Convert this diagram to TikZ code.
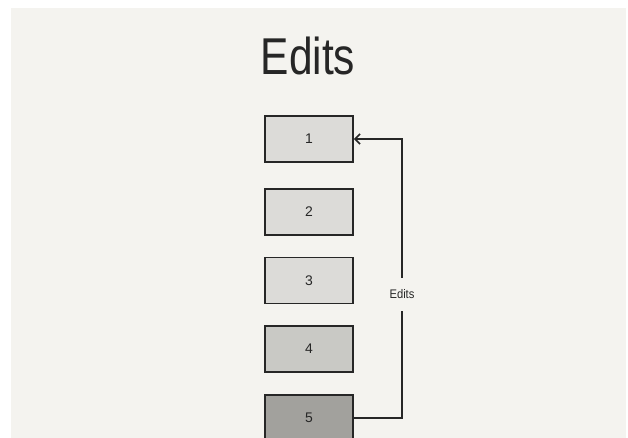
\documentclass[tikz,border=0pt]{standalone}
\usepackage{fontspec}
\setmainfont{Liberation Sans}
\usetikzlibrary{arrows.meta}
\definecolor{paper}{HTML}{F4F3EF}
\definecolor{boxlight}{HTML}{DCDBD8}
\definecolor{boxmid}{HTML}{C9C9C5}
\definecolor{boxdark}{HTML}{A2A19D}
\definecolor{ink}{HTML}{262626}
\tikzset{
  editbox/.style={draw=ink, line width=1.8bp, minimum width=88bp, minimum height=46bp, inner sep=0pt, font=\fontsize{14}{14}\selectfont, text=ink},
  conn/.style={draw=ink, line width=1.4bp},
  lbl/.style={font=\fontsize{12.5}{12.5}\selectfont, text=ink, minimum height=33bp, inner sep=0pt}
}
\begin{document}
\begin{tikzpicture}[x=1bp,y=-1bp]
\useasboundingbox (0,0) rectangle (628,438);
\clip (0,0) rectangle (628,438);
\fill[white] (0,0) rectangle (628,438);
\fill[paper] (11,8) rectangle (626,438);
\node[text=ink, inner sep=0pt] (title) at (308,56) {\scalebox{0.82}[1]{\fontsize{52}{52}\selectfont Edits}};
\node[editbox, fill=boxlight] (b1) at (309,139) {1};
\node[editbox, fill=boxlight] (b2) at (309,212) {2};
\node[editbox, fill=boxlight] (b3) at (309,280.5) {3};
\node[editbox, fill=boxmid] (b4) at (309,349) {4};
\node[editbox, fill=boxdark] (b5) at (309,418) {5};
\node[lbl] (el) at (402,294.5) {\scalebox{0.9}[1]{Edits}};
\draw[conn] (b5.east) -- (b5.east -| el.south) -- (el.south);
\draw[conn, -{Straight Barb[length=5bp, width=10bp, line width=1.6bp]}] (el.north) |- (b1.east);
\end{tikzpicture}
\end{document}
